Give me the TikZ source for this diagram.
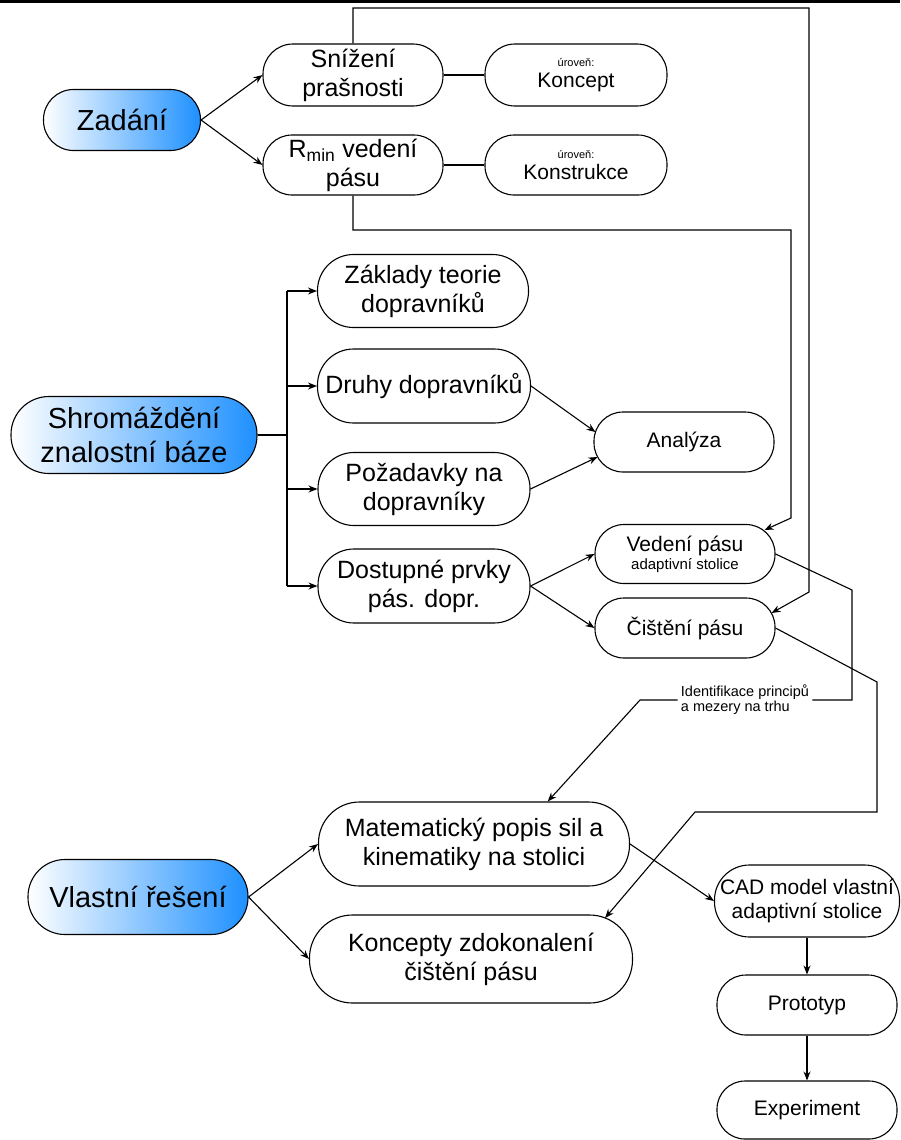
\documentclass[tikz,border=0pt]{standalone}
\usepackage{fontspec}
\setmainfont{Liberation Sans}
\usetikzlibrary{arrows.meta,calc}
\definecolor{dodger}{RGB}{30,144,255}

\begin{document}
\begin{tikzpicture}[x=1pt, y=-1pt]
    % Define styles
    \tikzset{
        box/.style={
            draw,
            line width=1.1pt,
            rounded corners=29pt,
            align=center,
            inner sep=0pt,
            minimum width=180pt,
            minimum height=60pt,
            font=\fontsize{21}{24}\selectfont
        },
        mid/.style={
            box,
            font=\fontsize{25}{29}\selectfont
        },
        main/.style={
            box,
            left color=white,
            right color=dodger,
            font=\fontsize{29}{34}\selectfont
        },
        arr/.style={
            -{Stealth[length=9pt, width=7pt, inset=3pt]},
            line width=1.1pt
        },
        link/.style={
            line width=1.1pt
        },
        small/.style={
            font=\fontsize{14.5}{15}\selectfont
        }
    }

    \useasboundingbox (0,0) rectangle (900,1140);
    \fill (0,0) rectangle (900,3);

    % Zadani
    \node[main, minimum width=157pt, minimum height=61pt, rounded corners=30pt] (zadani) at (122,120) {Zadání};
    \node[mid, minimum height=62pt, rounded corners=30pt] (snizeni) at (353,75) {Snížení\\prašnosti};
    \node[mid, minimum height=60pt] (rmin) at (353,165) {R\textsubscript{min} vedení\\pásu};
    \node[box, minimum width=182pt, minimum height=62pt, rounded corners=30pt] (koncept) at (576,75)
        {{\fontsize{11}{13}\selectfont úroveň:}\\[-3pt]Koncept};
    \node[box, minimum width=182pt] (konstrukce) at (576,165)
        {{\fontsize{11}{13}\selectfont úroveň:}\\[-3pt]Konstrukce};

    \draw[arr] (zadani.east) -- (snizeni.west);
    \draw[arr] (zadani.east) -- (rmin.west);
    \draw[link] (snizeni.east) -- (koncept.west);
    \draw[link] (rmin.east) -- (konstrukce.west);

    % Znalostni baze
    \node[main, minimum width=246pt, minimum height=77pt, rounded corners=38pt] (baze) at (134,435) {Shromáždění\\znalostní báze};
    \node[mid, minimum width=211pt, minimum height=73pt, rounded corners=36pt] (zaklady) at (423,291) {Základy teorie\\dopravníků};
    \node[mid, minimum width=213pt, minimum height=74pt, rounded corners=36pt] (druhy) at (424,386) {Druhy dopravníků};
    \node[mid, minimum width=212pt, minimum height=73pt, rounded corners=36pt] (pozadavky) at (424,489) {Požadavky na\\dopravníky};
    \node[mid, minimum width=212pt, minimum height=74pt, rounded corners=36pt] (dostupne) at (424,586) {Dostupné prvky\\pás. dopr.};
    \node[box] (analyza) at (684,442) {Analýza};
    \node[box, minimum height=59pt] (vedeni) at (685,554)
        {Vedení pásu\\[-6pt]{\fontsize{15}{17}\selectfont adaptivní stolice}};
    \node[box] (cisteni) at (685,628) {Čištění pásu};

    \coordinate (bus) at (287,435);
    \draw[link] (baze.east) -- (bus);
    \draw[link] (bus |- zaklady.west) -- (bus |- dostupne.west);
    \foreach \n in {zaklady, druhy, pozadavky, dostupne}
        \draw[arr] (bus |- \n.west) -- (\n.west);

    \draw[arr] (druhy.east) -- ($(analyza.west)+(2,-10)$);
    \draw[arr] (pozadavky.east) -- ($(analyza.west)+(4,15)$);
    \draw[arr] (dostupne.east) -- (vedeni.west);
    \draw[arr] (dostupne.east) -- (cisteni.west);

    % Feedback from Zadani
    \draw[arr] (snizeni.north) -- (353,8) -- (809,8) -- (809,592) -- ($(cisteni.east)+(-4,-15)$);
    \draw[arr] (rmin.south) -- (353,230) -- (791,230) -- (791,518) -- ($(vedeni.east)+(-11,-24)$);

    % Vlastni reseni
    \node[main, minimum width=220pt, minimum height=75pt, rounded corners=37pt] (vlastni) at (138,897) {Vlastní řešení};
    \node[mid, minimum width=311pt, minimum height=84pt, rounded corners=41pt] (mat) at (474,844)
        {Matematický popis sil a\\kinematiky na stolici};
    \node[mid, minimum width=323pt, minimum height=88pt, rounded corners=43pt] (koncepty) at (471,959)
        {Koncepty zdokonalení\\čištění pásu};
    \node[box, minimum width=185pt, minimum height=72pt, rounded corners=35pt] (cad) at (807,901)
        {CAD model vlastní\\adaptivní stolice};
    \node[box] (prototyp) at (807,1005) {Prototyp};
    \node[box, minimum height=58pt, rounded corners=28pt] (experiment) at (807,1110) {Experiment};

    \node[small, align=left, inner sep=3pt] (ident) at (745,700) {Identifikace principů\\a mezery na trhu};
    \draw[link] (vedeni.east) -- (852,590) -- (852,700) -- (ident.east);
    \draw[arr] (ident.west) -- (640,700) -- (mat.30);
    \draw[arr] (cisteni.east) -- (877,682) -- (877,812) -- (695,812) -- ($(koncepty.east)+(-28,-41)$);

    \draw[arr] (vlastni.east) -- (mat.west);
    \draw[arr] (vlastni.east) -- (koncepty.west);
    \draw[arr] (mat.east) -- (cad.west);
    \draw[arr] (cad.south) -- (prototyp.north);
    \draw[arr] (prototyp.south) -- (experiment.north);

\end{tikzpicture}
\end{document}
